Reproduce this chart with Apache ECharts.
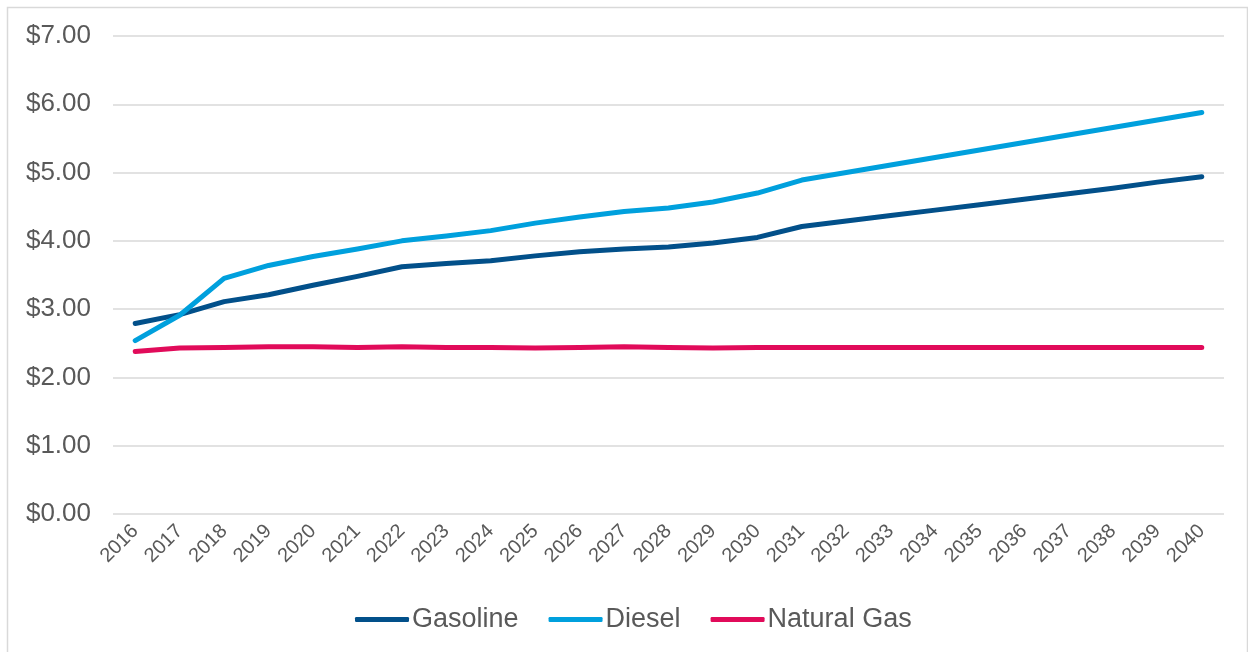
<!DOCTYPE html>
<html>
<head>
<meta charset="utf-8">
<script src="https://cdn.jsdelivr.net/npm/echarts@6/dist/echarts.min.js"></script>
<style>
  html, body { margin: 0; padding: 0; background: #fff; }
  #chart { width: 1248px; height: 652px; }
</style>
</head>
<body>
<div id="chart"></div>
<script>
const years = ['2016','2017','2018','2019','2020','2021','2022','2023','2024','2025','2026','2027','2028',
  '2029','2030','2031','2032','2033','2034','2035','2036','2037','2038','2039','2040'];
const gasoline = [2.79, 2.92, 3.11, 3.21, 3.35, 3.48, 3.62, 3.67, 3.71, 3.78, 3.84, 3.88, 3.91,
  3.97, 4.05, 4.21, 4.29, 4.37, 4.45, 4.53, 4.61, 4.69, 4.77, 4.86, 4.94];
const diesel = [2.54, 2.91, 3.45, 3.64, 3.77, 3.88, 4.00, 4.07, 4.15, 4.26, 4.35, 4.43, 4.48,
  4.57, 4.70, 4.89, 5.00, 5.11, 5.22, 5.33, 5.44, 5.55, 5.66, 5.77, 5.88];
const naturalGas = [2.38, 2.43, 2.44, 2.45, 2.45, 2.44, 2.45, 2.44, 2.44, 2.43, 2.44, 2.45, 2.44,
  2.43, 2.44, 2.44, 2.44, 2.44, 2.44, 2.44, 2.44, 2.44, 2.44, 2.44, 2.44];
const yTicks = [0, 1, 2, 3, 4, 5, 6, 7];

const chart = echarts.init(document.getElementById('chart'));

function lineSeries(name, data, color) {
  return {
    name: name,
    type: 'line',
    data: data,
    symbol: 'none',
    smooth: false,
    lineStyle: { width: 5, color: color, cap: 'round', join: 'round' },
    itemStyle: { color: color }
  };
}

chart.setOption({
  animation: false,
  backgroundColor: '#fff',
  graphic: [{
    type: 'rect',
    shape: { x: 7.5, y: 7.5, width: 1240, height: 650 },
    style: { fill: 'none', stroke: '#d9d9d9', lineWidth: 1.5 },
    silent: true
  }],
  grid: { left: 113, right: 24, top: 36, bottom: 138 },
  legend: {
    top: 601,
    left: 350,
    itemWidth: 54,
    itemHeight: 5,
    itemGap: 30,
    icon: 'roundRect',
    textStyle: { fontFamily: 'Liberation Sans, Arial', fontSize: 27, color: '#595959', padding: [0, 0, 0, -2] },
    data: ['Gasoline', 'Diesel', 'Natural Gas']
  },
  xAxis: {
    type: 'category',
    data: years,
    boundaryGap: true,
    axisLine: { show: false },
    axisTick: { show: false },
    axisLabel: {
      interval: 0,
      rotate: 45,
      margin: 14,
      fontFamily: 'Liberation Sans, Arial',
      fontSize: 20,
      color: '#595959'
    }
  },
  yAxis: {
    type: 'value',
    min: yTicks[0],
    max: yTicks[yTicks.length - 1],
    interval: 1,
    axisLine: { show: false },
    axisTick: { show: false },
    splitLine: { lineStyle: { color: '#d9d9d9', width: 1.5 } },
    axisLabel: {
      margin: 22,
      fontFamily: 'Liberation Sans, Arial',
      fontSize: 26,
      color: '#595959',
      formatter: v => '$' + v.toFixed(2)
    }
  },
  series: [
    lineSeries('Gasoline', gasoline, '#02508a'),
    lineSeries('Diesel', diesel, '#00a0dd'),
    lineSeries('Natural Gas', naturalGas, '#e10b5a')
  ]
});
</script>
</body>
</html>
